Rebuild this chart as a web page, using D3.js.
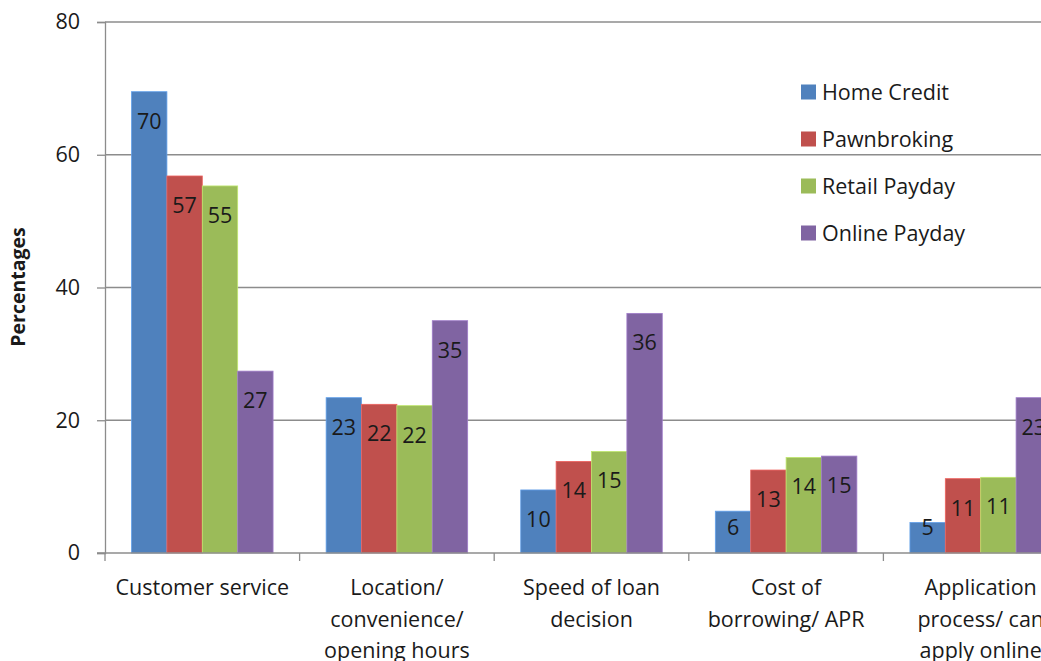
<!DOCTYPE html>
<html>
<head>
<meta charset="utf-8">
<script src="https://cdn.jsdelivr.net/npm/d3@7"></script>
<style>
  html, body { margin: 0; padding: 0; background: #fff; overflow: hidden; }
  svg text { font-family: "Open Sans", Lato, sans-serif; fill: #1a1a1a; }
</style>
</head>
<body>
<div id="chart"></div>
<script>
// categories (each entry is the lines of the wrapped tick label)
const categories = [
    ["Customer service"],
    ["Location/", "convenience/", "opening hours"],
    ["Speed of loan", "decision"],
    ["Cost of", "borrowing/ APR"],
    ["Application", "process/ can", "apply online"]
];
const seriesNames = ["Home Credit", "Pawnbroking", "Retail Payday", "Online Payday"];
const seriesColors = ["#4f81bd", "#c0504d", "#9bbb59", "#8064a2"];

// percentages per category, one value per series
const homeCredit   = [69.5, 23.4,  9.5,  6.3,  4.6];
const pawnbroking  = [56.8, 22.4, 13.8, 12.5, 11.2];
const retailPayday = [55.3, 22.2, 15.3, 14.4, 11.4];
const onlinePayday = [27.4, 35.0, 36.1, 14.6, 23.4];
const yTicks = [0, 20, 40, 60, 80];

const seriesValues = [homeCredit, pawnbroking, retailPayday, onlinePayday];

const width = 1041, height = 661;
const margin = { top: 22, left: 105, bottom: 108 };
const step = 194.6; // one category slot, chart is cut off on the right
const fontSize = 21.5;

const svg = d3.select("#chart")
    .append("svg")
    .attr("width", width)
    .attr("height", height);

const x0 = d3.scaleBand()
    .domain(d3.range(categories.length))
    .range([margin.left, margin.left + step * categories.length])
    .padding(0);

const x1 = d3.scaleBand()
    .domain(d3.range(seriesNames.length))
    .range([0, x0.bandwidth()])
    .paddingInner(0)
    .paddingOuter(0.75);

const y = d3.scaleLinear()
    .domain([0, 80])
    .range([height - margin.bottom, margin.top]);

// gridlines
svg.append("g")
    .selectAll("line")
    .data(yTicks.filter(d => d > 0))
    .enter()
    .append("line")
    .attr("x1", margin.left)
    .attr("x2", width)
    .attr("y1", d => y(d))
    .attr("y2", d => y(d))
    .attr("stroke", "#8c8c8c")
    .attr("stroke-width", 1.3);

// y axis
const yAxis = svg.append("g")
    .attr("transform", `translate(${margin.left},0)`)
    .call(d3.axisLeft(y).tickValues(yTicks).tickSize(8).tickPadding(17));
yAxis.select(".domain").attr("stroke", "#8c8c8c").attr("stroke-width", 1.3);
yAxis.selectAll(".tick line").attr("stroke", "#8c8c8c").attr("stroke-width", 1.3);
yAxis.selectAll(".tick text")
    .attr("font-size", fontSize)
    .style("font-family", "'Open Sans', sans-serif");

// bars
const groups = svg.append("g")
    .selectAll("g")
    .data(categories.map((c, i) => i))
    .enter()
    .append("g")
    .attr("transform", i => `translate(${x0(i)},0)`);

const barData = i => seriesValues.map((s, k) => ({ k: k, v: s[i] }));

groups.selectAll("rect")
    .data(barData)
    .enter()
    .append("rect")
    .attr("x", d => x1(d.k))
    .attr("y", d => y(d.v))
    .attr("width", x1.bandwidth())
    .attr("height", d => y(0) - y(d.v))
    .attr("fill", d => seriesColors[d.k])
    .attr("stroke", d => d3.color(seriesColors[d.k]).brighter(0.6))
    .attr("stroke-width", 0.8);

// value labels, inside end
groups.selectAll("text")
    .data(barData)
    .enter()
    .append("text")
    .attr("x", d => x1(d.k) + x1.bandwidth() / 2)
    .attr("y", d => Math.min(y(d.v) + 37, y(0) - 18.5))
    .attr("text-anchor", "middle")
    .attr("font-size", fontSize)
    .text(d => Math.round(d.v));

// x axis
const xAxis = svg.append("g")
    .attr("transform", `translate(0,${y(0)})`);
xAxis.append("line")
    .attr("x1", margin.left - 8)
    .attr("x2", width)
    .attr("stroke", "#8c8c8c")
    .attr("stroke-width", 1.3);
xAxis.selectAll(".sep")
    .data(d3.range(categories.length + 1))
    .enter()
    .append("line")
    .attr("class", "sep")
    .attr("x1", i => margin.left + step * i)
    .attr("x2", i => margin.left + step * i)
    .attr("y1", 0)
    .attr("y2", 8)
    .attr("stroke", "#8c8c8c")
    .attr("stroke-width", 1.3);

const catLabels = xAxis.selectAll(".cat")
    .data(categories)
    .enter()
    .append("text")
    .attr("class", "cat")
    .attr("text-anchor", "middle")
    .attr("font-size", fontSize)
    .attr("transform", (d, i) => `translate(${x0(i) + x0.bandwidth() / 2},0)`);
catLabels.selectAll("tspan")
    .data(d => d)
    .enter()
    .append("tspan")
    .attr("x", 0)
    .attr("y", (d, j) => 42 + j * 31.5)
    .text(d => d);

// y title
svg.append("text")
    .attr("transform", "rotate(-90)")
    .attr("x", -287)
    .attr("y", 25)
    .attr("text-anchor", "middle")
    .attr("font-size", 19.5)
    .attr("font-weight", "bold")
    .text("Percentages");

// legend
const legend = svg.append("g")
    .attr("transform", "translate(801,92)");
const items = legend.selectAll("g")
    .data(seriesNames)
    .enter()
    .append("g")
    .attr("transform", (d, i) => `translate(0,${i * 47})`);
items.append("rect")
    .attr("x", 0)
    .attr("y", -7.5)
    .attr("width", 15)
    .attr("height", 15)
    .attr("fill", (d, i) => seriesColors[i]);
items.append("text")
    .attr("x", 21)
    .attr("y", 7.5)
    .attr("font-size", fontSize)
    .text(d => d);
</script>
</body>
</html>
